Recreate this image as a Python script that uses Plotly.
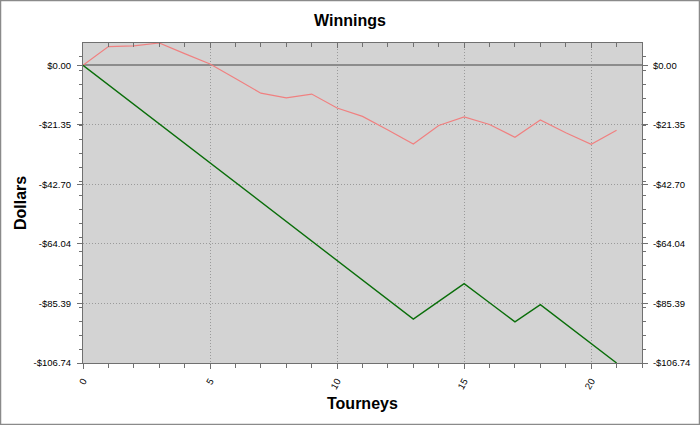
import plotly.graph_objects as go

tourneys = list(range(22))
winnings = [0.0, 6.7, 7.0, 8.0, 4.2, 0.5, -4.7, -10.0, -11.7, -10.3, -15.3, -18.3,
            -23.2, -28.2, -21.6, -18.5, -21.2, -25.8, -19.6, -24.2, -28.3, -23.3]
cumulative = [0.0, -7.0, -14.0, -21.0, -28.0, -35.0, -42.0, -49.0, -56.0, -63.0, -70.0, -77.0,
              -84.0, -91.0, -84.65, -78.3, -85.15, -92.0, -85.8, -92.78, -99.76, -106.74]
y_tick_vals = [0.0, -21.35, -42.70, -64.04, -85.39, -106.74]
y_tick_text = ["$0.00", "-$21.35", "-$42.70", "-$64.04", "-$85.39", "-$106.74"]
x_tick_vals = [0, 5, 10, 15, 20]

FONT = "Liberation Sans, Arial, sans-serif"
AX = "#707070"
L, R, T, B = 83, 58, 43, 62
W, H = 700, 425
pw, ph = W - L - R, H - T - B
yr = [-106.74, 8.0]
xr = [0, 22]

fig = go.Figure()
fig.add_trace(go.Scatter(x=tourneys, y=winnings, mode="lines",
                         line=dict(color="#f08080", width=1.2), hoverinfo="skip"))
fig.add_trace(go.Scatter(x=tourneys, y=cumulative, mode="lines",
                         line=dict(color="#0a6e0a", width=1.4), hoverinfo="skip"))
# invisible traces for the right-hand and top axes
fig.add_trace(go.Scatter(x=[tourneys[0]], y=[cumulative[0]], yaxis="y2", mode="markers",
                         marker=dict(opacity=0), hoverinfo="skip"))
fig.add_trace(go.Scatter(x=[tourneys[0]], y=[cumulative[0]], xaxis="x2", mode="markers",
                         marker=dict(opacity=0), hoverinfo="skip"))

tickfont = dict(family=FONT, size=9.5, color="#000000")
GRID = dict(showgrid=True, gridcolor="#9a9a9a", griddash="1px,2px", gridwidth=1)

fig.update_layout(
    width=W, height=H,
    margin=dict(l=L, r=R, t=T, b=B, autoexpand=False),
    paper_bgcolor="#ffffff", plot_bgcolor="#d3d3d3",
    showlegend=False,
    title=dict(text="<b>Winnings</b>", font=dict(family=FONT, size=16, color="#000000"),
               x=0.5, xref="container", xanchor="center",
               y=1 - 20 / H, yref="container", yanchor="middle", automargin=False),
    xaxis=dict(range=xr, tickvals=x_tick_vals, ticktext=[str(v) for v in x_tick_vals],
               tickangle=-60, tickfont=tickfont, automargin=False,
               ticks="outside", ticklen=5, tickcolor=AX, tickwidth=1,
               minor=dict(dtick=1, tick0=0, ticks="outside", ticklen=4, tickcolor=AX, showgrid=False),
               showline=True, linecolor=AX, linewidth=1, mirror=True,
               zeroline=False, fixedrange=True, ticklabelstandoff=3, **GRID),
    xaxis2=dict(range=xr, overlaying="x", side="top", anchor="y", automargin=False,
                tickvals=x_tick_vals, showticklabels=False,
                ticks="inside", ticklen=5, tickcolor=AX, tickwidth=1,
                minor=dict(dtick=1, tick0=0, ticks="inside", ticklen=4, tickcolor=AX, showgrid=False),
                showgrid=False, showline=False, zeroline=False, fixedrange=True),
    yaxis=dict(range=yr, tickvals=y_tick_vals, ticktext=y_tick_text, tickfont=tickfont,
               automargin=False,
               ticks="outside", ticklen=5, tickcolor=AX, tickwidth=1,
               minor=dict(tick0=-106.74, dtick=5, ticks="outside", ticklen=3, tickcolor=AX, showgrid=False),
               showline=True, linecolor=AX, linewidth=1, mirror=True,
               zeroline=True, zerolinecolor="#8c8c8c", zerolinewidth=2,
               ticklabelstandoff=4, fixedrange=True, **GRID),
    yaxis2=dict(range=yr, overlaying="y", side="right", anchor="x", automargin=False,
                tickvals=y_tick_vals, ticktext=y_tick_text, tickfont=tickfont,
                ticks="outside", ticklen=5, tickcolor=AX, tickwidth=1,
                minor=dict(tick0=-106.74, dtick=5, ticks="outside", ticklen=3, tickcolor=AX, showgrid=False),
                showgrid=False, showline=False, zeroline=False,
                ticklabelstandoff=3, fixedrange=True),
    annotations=[
        dict(text="<b>Dollars</b>", xref="paper", yref="paper", x=0, y=0.5,
             xanchor="center", yanchor="middle", xshift=-(L - 20), textangle=-90,
             showarrow=False, font=dict(family=FONT, size=16, color="#000000")),
        dict(text="<b>Tourneys</b>", xref="paper", yref="paper", x=0.5, y=0,
             xanchor="center", yanchor="middle", yshift=-40,
             showarrow=False, font=dict(family=FONT, size=16, color="#000000")),
    ],
    shapes=[
        dict(type="rect", xref="paper", yref="paper", layer="above",
             x0=-(L - 0.5) / pw, x1=1 + (R - 0.5) / pw,
             y0=-(B - 0.5) / ph, y1=1 + (T - 0.5) / ph,
             line=dict(color="#8a8a8a", width=1.5)),
    ],
)

fig.write_html("out.html", config={"displayModeBar": False},
               post_script="document.body.style.margin='0';document.body.style.overflow='hidden';")
